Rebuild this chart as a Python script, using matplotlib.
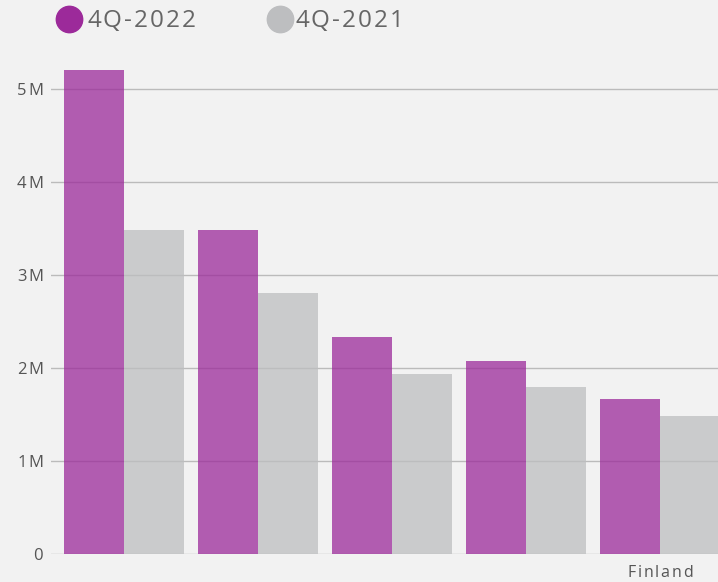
import matplotlib
matplotlib.use("Agg")
import matplotlib.pyplot as plt
from matplotlib.lines import Line2D
import numpy as np

plt.rcParams['font.family'] = ['Open Sans', 'DejaVu Sans']

# Data
paises = ["", "", "", "", "Finland"]
q4_2022 = [5.20e6, 3.48e6, 2.33e6, 2.07e6, 1.67e6]
q4_2021 = [3.48e6, 2.81e6, 1.94e6, 1.80e6, 1.48e6]
y_ticks = [0, 1e6, 2e6, 3e6, 4e6, 5e6]
y_labels = ["0", "1M", "2M", "3M", "4M", "5M"]
series = ["4Q-2022", "4Q-2021"]
colores = ["#9C2A9A", "#BDBEC0"]

fondo = "#F2F2F2"
fig = plt.figure(figsize=(7.18, 5.82), dpi=100, facecolor=fondo)
ax = fig.add_axes([51 / 718, 28 / 582, 667 / 718, 494 / 582])
ax.set_facecolor(fondo)
renderer = fig.canvas.get_renderer()


def texto_espaciado(px, py, s, espacio, ha='left', va='center', **kw):
    # matplotlib no tiene letter-spacing: se dibuja letra por letra (coords en pixeles)
    letras = [fig.text(0, 0, c, transform=None, va=va, ha='left', **kw) for c in s]
    anchos = [t.get_window_extent(renderer).width for t in letras]
    total = sum(anchos) + espacio * (len(s) - 1)
    if ha == 'right':
        px -= total
    elif ha == 'center':
        px -= total / 2
    for t, w in zip(letras, anchos):
        t.set_position((px, py))
        px += w + espacio


x = np.arange(len(paises))
ancho = 0.451
ax.bar(x - ancho / 2, q4_2022, ancho, color=colores[0], alpha=0.75, zorder=2)
ax.bar(x + ancho / 2, q4_2021, ancho, color=colores[1], alpha=0.75, zorder=2)

ax.set_xlim(-0.545, 4.433)
ax.set_ylim(0, 5.312e6)
ax.set_yticks(y_ticks)
ax.set_yticklabels([])
ax.set_xticks(x)
ax.set_xticklabels([])
ax.tick_params(length=0)
ax.grid(axis='y', color="#BBBBBB", linewidth=1, zorder=1)
for s in ax.spines.values():
    s.set_visible(False)

# tick labels con espaciado entre letras
for v, lab in zip(y_ticks, y_labels):
    px, py = ax.transData.transform((ax.get_xlim()[0], v))
    texto_espaciado(px - 8, py - 1.5, lab, 1.5, ha='right', fontsize=12, color="#555555")
for xi, lab in zip(x, paises):
    if lab:
        px, py = ax.transData.transform((xi, 0))
        texto_espaciado(px, py - 19, lab, 1.8, ha='center', fontsize=11.5, color="#555555")

# Legend drawn by hand at the top
posiciones = [(69, 87), (280, 295)]
for (cx, tx), nombre, col in zip(posiciones, series, colores):
    fig.add_artist(Line2D([cx / 718], [1 - 19 / 582], marker='o', markersize=19,
                          color=col, linestyle='none', transform=fig.transFigure))
    texto_espaciado(tx, 582 - 21, nombre, 2, fontsize=17.5, color="#666666")

fig.savefig("out.png", dpi=100, facecolor=fondo)
